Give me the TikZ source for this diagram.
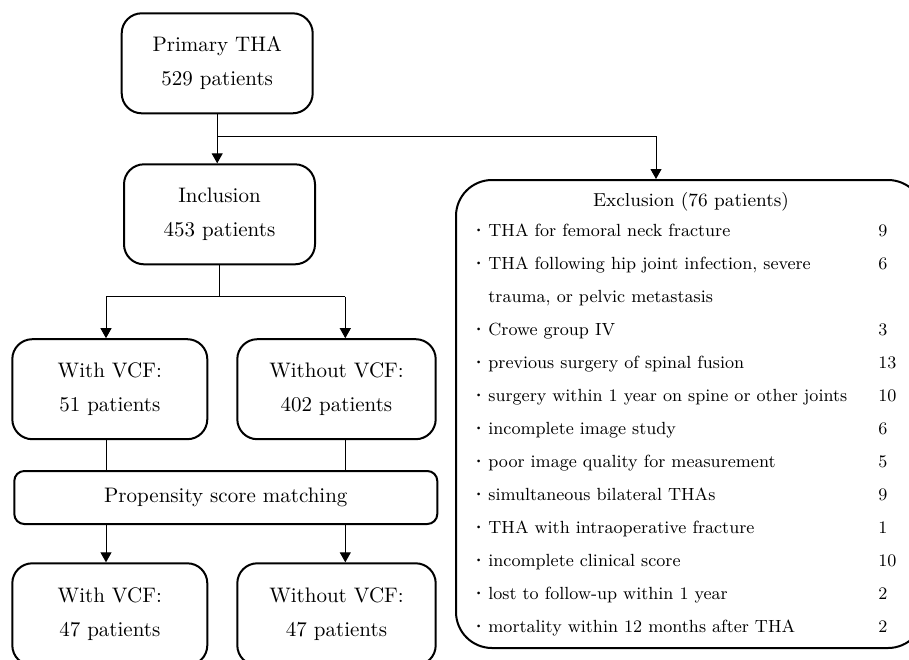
\documentclass[tikz,border=0pt]{standalone}
\usetikzlibrary{arrows.meta}

\newcommand{\bul}{\llap{\textbf{\textperiodcentered}\hspace{0.8pt}}}

\begin{document}
\begin{tikzpicture}[x=0.5pt,y=-0.5pt,
    caseta/.style={draw,line width=1pt,rounded corners=10pt,align=center,
      inner sep=0pt,minimum width=97.5pt,minimum height=50pt,
      font=\fontsize{10.5}{17}\selectfont},
    sageata/.style={-{Triangle[length=5pt,width=5.5pt]},line width=0.5pt},
    linie/.style={line width=0.5pt},
    rand/.style={anchor=base west,inner sep=0pt,font=\fontsize{8.8}{10}\selectfont}]
  \useasboundingbox (0,0) rectangle (909,659);

  % casete
  \node[caseta,minimum width=95.5pt] (prim) at (217.2,63.3) {Primary THA\\529 patients};
  \node[caseta,minimum width=95.5pt] (incl) at (219.5,214.3) {Inclusion\\453 patients};
  \node[caseta] (cu) at (109.8,389.2) {With VCF:\\51 patients};
  \node[caseta,minimum width=99.2pt] (fara) at (336.5,389.2) {Without VCF:\\402 patients};
  \node[caseta,rounded corners=5pt,minimum width=211.5pt,minimum height=26.5pt] (psm) at (225.8,497.5) {Propensity score matching};
  \node[caseta,minimum height=51pt] (cu2) at (109.8,614.3) {With VCF:\\47 patients};
  \node[caseta,minimum width=99.2pt,minimum height=51pt] (fara2) at (336.5,614.3) {Without VCF:\\47 patients};

  % excluderi
  \node[draw,line width=1pt,rounded corners=18pt,minimum width=234pt,minimum height=234pt] (excl) at (690,414) {};
  \node[anchor=base,inner sep=0pt,font=\fontsize{9.4}{11}\selectfont] (titlu) at (691,206.5) {Exclusion (76 patients)};
  \foreach \txt/\nr [count=\i from 0] in {
      {\bul THA for femoral neck fracture}/9,
      {\bul THA following hip joint infection, severe}/6,
      {trauma, or pelvic metastasis}/{},
      {\bul Crowe group IV}/3,
      {\bul previous surgery of spinal fusion}/13,
      {\bul surgery within 1 year on spine or other joints}/10,
      {\bul incomplete image study}/6,
      {\bul poor image quality for measurement}/5,
      {\bul simultaneous bilateral THAs}/9,
      {\bul THA with intraoperative fracture}/1,
      {\bul incomplete clinical score}/10,
      {\bul lost to follow-up within 1 year}/2,
      {\bul mortality within 12 months after THA}/2}
    {
      \node[rand] (motiv\i) at (488,{236+33*\i}) {\txt};
      \node[rand] (nr\i) at (878,{236+33*\i}) {\nr};
    }

  % sageti
  \coordinate (ram) at ([yshift=-10.85pt]prim.south);
  \coordinate (div) at ([yshift=-15.7pt]incl.south);
  \coordinate (colL) at (106,0);
  \coordinate (colR) at (345.3,0);
  \draw[sageata] (prim.south) -- (prim.south |- incl.north);
  \draw[sageata] (ram) -| ([xshift=-17pt]excl.north);
  \draw[linie] (incl.south) -- (div);
  \draw[linie] (div -| colL) -- (div -| colR);
  \draw[sageata] (div -| colL) -- (cu.north -| colL);
  \draw[sageata] (div -| colR) -- (fara.north -| colR);
  \draw[linie] (cu.south -| colL) -- (psm.north -| colL);
  \draw[linie] (fara.south -| colR) -- (psm.north -| colR);
  \draw[sageata] (psm.south -| colL) -- (cu2.north -| colL);
  \draw[sageata] (psm.south -| colR) -- (fara2.north -| colR);
\end{tikzpicture}
\end{document}
